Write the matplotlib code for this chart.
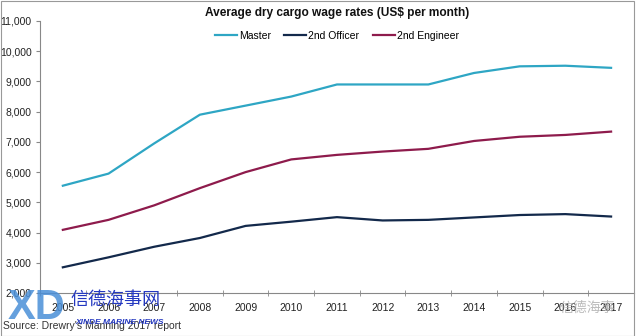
import numpy as np
import matplotlib.pyplot as plt
from matplotlib.ticker import FuncFormatter, FixedLocator
from matplotlib.patches import Rectangle

plt.rcParams['font.family'] = ['Liberation Sans', 'Noto Sans CJK SC', 'DejaVu Sans']

# wage data (US$ per month)
years = ['2005', '2006', '2007', '2008', '2009', '2010', '2011',
         '2012', '2013', '2014', '2015', '2016', '2017']
master = [5550, 5950, 6950, 7900, 8200, 8500, 8900, 8900, 8900, 9280, 9500, 9520, 9450]
officer = [2850, 3180, 3530, 3820, 4220, 4360, 4510, 4400, 4420, 4500, 4580, 4610, 4530]
engineer = [4090, 4420, 4900, 5470, 6000, 6420, 6570, 6680, 6770, 7030, 7170, 7230, 7340]

fig = plt.figure(figsize=(6.4, 3.36), dpi=100)
ax = fig.add_axes([0.0625, 0.128, 0.928, 0.8095])

x = np.arange(len(years))
ax.plot(x, master, color='#2ea6c4', lw=1.6, label='Master')
ax.plot(x, officer, color='#13294b', lw=1.6, label='2nd Officer')
ax.plot(x, engineer, color='#8e1b4c', lw=1.6, label='2nd Engineer')

ax.set_xlim(-0.5, len(years) - 0.5)
ax.set_ylim(2000, 11000)
ax.set_yticks(range(2000, 11001, 1000))
ax.yaxis.set_major_formatter(FuncFormatter(lambda v, p: f'{int(v):,}'))
ax.set_xticks(x)
ax.set_xticklabels(years)
ax.xaxis.set_minor_locator(FixedLocator(np.arange(-0.5, len(years), 1)))
ax.tick_params(axis='x', which='major', length=0, pad=7, labelsize=7.5, labelcolor='#222222')
ax.tick_params(axis='x', which='minor', length=4, direction='inout', color='#888888')
ax.tick_params(axis='y', length=3, color='#888888', labelsize=7.5, labelcolor='#222222', pad=3)

for s in ['top', 'right']:
    ax.spines[s].set_visible(False)
for s in ['left', 'bottom']:
    ax.spines[s].set_color('#888888')
    ax.spines[s].set_linewidth(0.8)

fig.text(0.527, 0.962, 'Average dry cargo wage rates (US$ per month)',
         ha='center', va='center', fontsize=8.6, fontweight='bold', color='#111111')
ax.legend(loc='center', bbox_to_anchor=(0.5, 0.945), ncol=3, frameon=False,
          fontsize=7.5, handlelength=2.1, handletextpad=0.2, columnspacing=1.3)

# source note and watermarks
fig.text(0.005, 0.03, "Source: Drewry's Manning 2017 report", fontsize=7.5,
         color='#333333', ha='left', va='center')
fig.text(0.012, 0.083, 'XD', fontsize=30, fontweight='bold', color='#4a8fd8',
         alpha=0.85, ha='left', va='center')
fig.text(0.11, 0.107, '信德海事网', fontsize=13, color='#2438c0',
         family=['Noto Sans CJK SC'], ha='left', va='center')
fig.text(0.118, 0.040, 'XINDE MARINE NEWS', fontsize=6, fontweight='bold',
         fontstyle='italic', color='#2438c0', ha='left', va='center')
fig.text(0.875, 0.085, '信德海事', fontsize=10, color='#aaaaaa', alpha=0.8,
         family=['Noto Sans CJK SC'], ha='left', va='center')

fig.patches.append(Rectangle((0.001, 0.0), 0.99, 0.997, transform=fig.transFigure,
                             fill=False, edgecolor='#999999', lw=0.8))

fig.savefig('out.png', dpi=100)
